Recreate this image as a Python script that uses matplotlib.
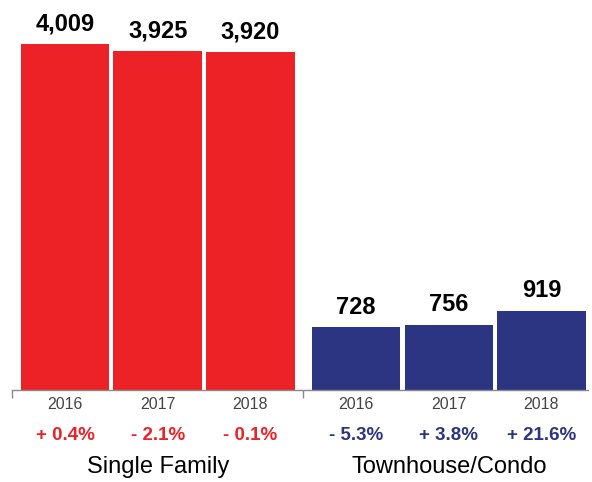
import numpy as np
import matplotlib
matplotlib.use("Agg")
import matplotlib.pyplot as plt

plt.rcParams['font.family'] = ['Liberation Sans', 'DejaVu Sans']

# data
groups = ['Single Family', 'Townhouse/Condo']
years = ['2016', '2017', '2018']
single_family = [4009, 3925, 3920]
townhouse = [728, 756, 919]
sf_change = ['+ 0.4%', '- 2.1%', '- 0.1%']
th_change = ['- 5.3%', '+ 3.8%', '+ 21.6%']

red = '#ed2226'
blue = '#2b3582'

fig = plt.figure(figsize=(5.92, 4.82), dpi=100)
ax = fig.add_axes([12/592, 92/482, 576/592, 390/482])

gap = 0.14
width = 0.955
x_sf = np.arange(3) + 0.572
x_th = np.arange(3) + 3 + gap + 0.572

ax.bar(x_sf, single_family, width=width, color=red)
ax.bar(x_th, townhouse, width=width, color=blue)

for xs, vals in [(x_sf, single_family), (x_th, townhouse)]:
    for x, v in zip(xs, vals):
        ax.annotate(f'{v:,}', (x, v), xytext=(0, 6), textcoords='offset points',
                    ha='center', va='bottom', fontsize=17, fontweight='bold')

ax.set_xlim(0, 6.214)
ax.set_ylim(0, 4519)

for s in ['top', 'right', 'left']:
    ax.spines[s].set_visible(False)
ax.spines['bottom'].set_color('#8a8a8a')
ax.spines['bottom'].set_linewidth(1.0)
ax.set_yticks([])
ax.set_xticks([0, 3 + gap])
ax.set_xticklabels([])
ax.tick_params(axis='x', length=6, color='#8a8a8a', width=1.0)

trans = ax.get_xaxis_transform()
for xs, changes, col in [(x_sf, sf_change, red), (x_th, th_change, blue)]:
    for x, y, c in zip(xs, years, changes):
        ax.text(x, -0.038, y, transform=trans, ha='center', va='center',
                fontsize=11.5, color='#444444')
        ax.text(x, -0.116, c, transform=trans, ha='center', va='center',
                fontsize=13.5, fontweight='bold', color=col)
for xs, g in [(x_sf, groups[0]), (x_th, groups[1])]:
    ax.text(xs[1], -0.197, g, transform=trans, ha='center', va='center',
            fontsize=17, color='black')

fig.savefig('out.png', dpi=100)
